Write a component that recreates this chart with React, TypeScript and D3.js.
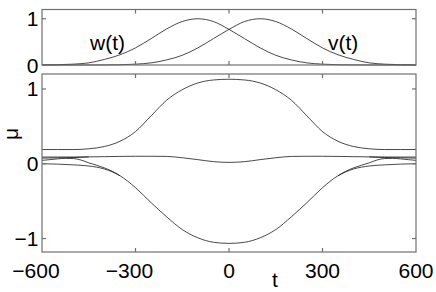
import React from 'react';
import * as d3 from 'd3';

// time grid shared by the top curves and the main bottom curves
const tGrid = [
  -600, -550, -500, -450, -400, -350, -300, -250, -200, -150, -100, -50, 0,
  50, 100, 150, 200, 250, 300, 350, 400, 450, 500, 550, 600,
];

// top panel: pulses
const wVals = [
  0.002, 0.006, 0.018, 0.046, 0.12, 0.22, 0.37, 0.57, 0.78, 0.94, 1, 0.94, 0.77,
  0.57, 0.37, 0.21, 0.11, 0.046, 0.018, 0.006, 0.002, 0.001, 0, 0, 0,
];
const vVals = [
  0, 0, 0, 0.001, 0.002, 0.006, 0.018, 0.046, 0.11, 0.21, 0.37, 0.57, 0.77,
  0.94, 1, 0.94, 0.78, 0.57, 0.37, 0.22, 0.12, 0.046, 0.018, 0.006, 0.002,
];

// bottom panel: eigenvalue branches
const upperVals = [
  0.19, 0.19, 0.19, 0.2, 0.23, 0.3, 0.43, 0.64, 0.85, 0.99, 1.08, 1.12, 1.13,
  1.12, 1.08, 0.99, 0.85, 0.64, 0.43, 0.3, 0.23, 0.2, 0.19, 0.19, 0.19,
];
const lowerVals = [
  0, -0.005, -0.015, -0.03, -0.07, -0.16, -0.32, -0.52, -0.71, -0.88, -0.99, -1.05, -1.065,
  -1.05, -0.99, -0.88, -0.71, -0.52, -0.32, -0.16, -0.07, -0.03, -0.015, -0.005, 0,
];
const middleVals = [
  0.09, 0.09, 0.09, 0.092, 0.095, 0.098, 0.1, 0.1, 0.098, 0.08, 0.055, 0.028, 0.018,
  0.028, 0.055, 0.08, 0.098, 0.1, 0.1, 0.098, 0.095, 0.092, 0.09, 0.09, 0.09,
];

// short branches near the edges
const edgeLeftT = [-600, -575, -550, -525, -500, -475, -450];
const edgeRightT = [450, 475, 500, 525, 550, 575, 600];
const branchDLeft = [0.075, 0.077, 0.079, 0.081, 0.083, 0.086, 0.092];
const branchDRight = [0.092, 0.086, 0.083, 0.081, 0.079, 0.077, 0.075];

const dropLeftT = [-600, -575, -550, -525, -500, -475, -450, -425, -400, -375, -350];
const dropRightT = [350, 375, 400, 425, 450, 475, 500, 525, 550, 575, 600];
const branchELeft = [0.045, 0.055, 0.065, 0.072, 0.07, 0.05, 0.012, -0.02, -0.055, -0.1, -0.16];
const branchERight = [-0.16, -0.1, -0.055, -0.02, 0.012, 0.05, 0.07, 0.072, 0.065, 0.055, 0.045];

const xTicks = [-600, -300, 0, 300, 600];
const topYTicks = [0, 1];
const botYTicks = [-1, 0, 1];

const W = 436;
const H = 292;
const left = 42;
const right = 416;
const top1 = 9.5;
const bot1 = 65;
const top2 = 74;
const bot2 = 252;
const font = '"Liberation Sans", Arial, Helvetica, sans-serif';
const lineColor = '#1a1a1a';
const frameColor = '#707070';
const tick = 4;

const fmt = (v: number) => (v < 0 ? '\u2212' + Math.abs(v) : String(v));

const App = () => {
  const x = d3.scaleLinear().domain([-600, 600]).range([left, right]);
  const y1 = d3.scaleLinear().domain([0, 1.2]).range([bot1, top1]);
  const y2 = d3.scaleLinear().domain([-1.18, 1.2]).range([bot2, top2]);

  const path = (ts: number[], vs: number[], y: d3.ScaleLinear<number, number>) =>
    d3
      .line<number>()
      .x((_, i) => x(ts[i]))
      .y(d => y(d))
      .curve(d3.curveMonotoneX)(vs) || '';

  const topSeries = [wVals, vVals];
  const botSeries: [number[], number[]][] = [
    [tGrid, upperVals],
    [tGrid, lowerVals],
    [tGrid, middleVals],
    [edgeLeftT, branchDLeft],
    [edgeRightT, branchDRight],
    [dropLeftT, branchELeft],
    [dropRightT, branchERight],
  ];

  const frame = (t: number, b: number, yTicks: number[], y: d3.ScaleLinear<number, number>) => (
    <g stroke={frameColor} strokeWidth={1.2} fill="none">
      <rect x={left} y={t} width={right - left} height={b - t} />
      {xTicks.slice(1, -1).map(v => (
        <g key={'x' + v}>
          <line x1={x(v)} x2={x(v)} y1={b} y2={b - tick} />
          <line x1={x(v)} x2={x(v)} y1={t} y2={t + tick} />
        </g>
      ))}
      {yTicks.map(v => (
        <g key={'y' + v}>
          <line x1={left} x2={left + tick} y1={y(v)} y2={y(v)} />
          <line x1={right} x2={right - tick} y1={y(v)} y2={y(v)} />
        </g>
      ))}
    </g>
  );

  return (
    <svg
      width={W}
      height={H}
      style={{ position: 'absolute', left: 0, top: 0, background: '#fff' }}
      fontFamily={font}
      fontSize={21}
    >
      <rect width={W} height={H} fill="#fff" />
      {/* top panel */}
      <g fill="none" stroke={lineColor} strokeWidth={0.8}>
        {topSeries.map((vs, i) => (
          <path key={i} d={path(tGrid, vs, y1)} />
        ))}
      </g>
      {frame(top1, bot1, topYTicks, y1)}
      {topYTicks.map(v => (
        <text key={v} x={38.5} y={y1(v) + 7.5} textAnchor="end">
          {fmt(v)}
        </text>
      ))}
      <text x={90} y={50}>w(t)</text>
      <text x={328} y={50}>v(t)</text>

      {/* bottom panel */}
      <g fill="none" stroke={lineColor} strokeWidth={0.8}>
        {botSeries.map(([ts, vs], i) => (
          <path key={i} d={path(ts, vs, y2)} />
        ))}
      </g>
      {frame(top2, bot2, botYTicks, y2)}
      {botYTicks.map(v => (
        <text key={v} x={38.5} y={y2(v) + 7.5} textAnchor="end">
          {fmt(v)}
        </text>
      ))}
      {xTicks.map(v => (
        <text key={v} x={x(v)} dx={v < 0 ? -6 : 0} y={278} textAnchor="middle">
          {fmt(v)}
        </text>
      ))}
      <text x={275} y={287} textAnchor="middle">t</text>
      <text transform="translate(18,134) rotate(-90)" textAnchor="middle">μ</text>
    </svg>
  );
};

export default App;
